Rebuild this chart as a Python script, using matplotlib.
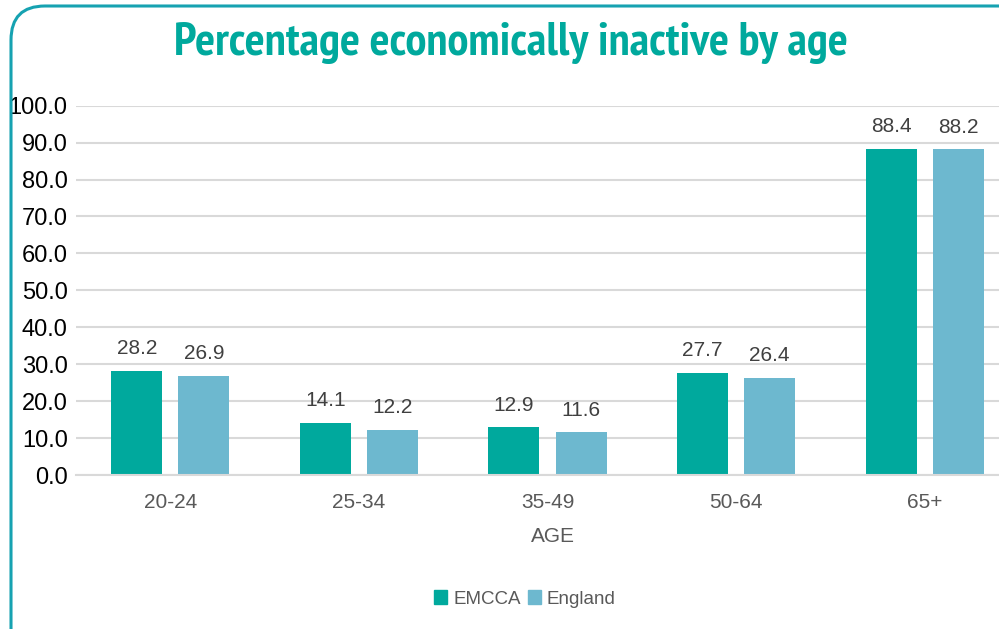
import numpy as np
import matplotlib
matplotlib.use('agg')
import matplotlib.pyplot as plt
from matplotlib import font_manager
from matplotlib.patches import FancyBboxPatch, Patch
from matplotlib.transforms import IdentityTransform

ages = ["20-24", "25-34", "35-49", "50-64", "65+"]
emcca = [28.2, 14.1, 12.9, 27.7, 88.4]
england = [26.9, 12.2, 11.6, 26.4, 88.2]
series_names = ["EMCCA", "England"]
title = "Percentage economically inactive by age"

teal = '#00A99D'
blue = '#6DB8CF'
grid_c = '#D9D9D9'
txt_c = '#595959'

plt.rcParams['font.family'] = ['Liberation Sans', 'DejaVu Sans']

# look for a narrow/condensed bold face for the title (narrow first)
narrow = [f for f in font_manager.fontManager.ttflist
          if (f.stretch in ('condensed', 'semi-condensed', 'extra-condensed')
              or 'Narrow' in f.name or 'Condensed' in f.name)
          and f.weight in ('bold', 700, 'semibold', 600)]
narrow.sort(key=lambda f: 0 if 'Narrow' in f.name else 1)
if narrow:
    title_fp = font_manager.FontProperties(fname=narrow[0].fname, size=30)
else:
    title_fp = font_manager.FontProperties(family='DejaVu Sans', weight='bold', size=30)

fig = plt.figure(figsize=(9.99, 6.29), dpi=100)

# rounded frame round the chart (pixels)
frame = FancyBboxPatch((11, -80), 1100, 629 - 6 + 80, boxstyle="round,pad=0,rounding_size=34",
                       transform=IdentityTransform(), fill=False, edgecolor='#16A2B1', lw=2.2)
fig.add_artist(frame)

ax = fig.add_axes([76 / 999, 1 - 475 / 629, (1019 - 76) / 999, (475 - 105.7) / 629])

x = np.arange(len(ages))
w = 0.27
off = 0.178
b1 = ax.bar(x - off, emcca, w, color=teal, zorder=3)
b2 = ax.bar(x + off, england, w, color=blue, zorder=3)

for bars, vals in [(b1, emcca), (b2, england)]:
    for rect, v in zip(bars, vals):
        ax.annotate(f"{v:.1f}", (rect.get_x() + rect.get_width() / 2, v),
                    xytext=(0, 9), textcoords='offset points', ha='center', va='bottom',
                    fontsize=15, color='#404040')

ax.set_xlim(-0.5, len(ages) - 0.5)
ax.set_ylim(0, 100)
ax.set_yticks(np.arange(0, 101, 10))
ax.yaxis.set_major_formatter(matplotlib.ticker.FormatStrFormatter('%.1f'))
ax.set_xticks(x)
ax.set_xticklabels(ages)
ax.tick_params(axis='y', length=0, labelsize=17, labelcolor='black', pad=6)
ax.tick_params(axis='x', length=0, labelsize=15, labelcolor=txt_c, pad=13)
ax.grid(axis='y', color=grid_c, lw=1.5, zorder=0)
for s in ['left', 'right', 'top']:
    ax.spines[s].set_visible(False)
ax.spines['bottom'].set_color(grid_c)
ax.spines['bottom'].set_linewidth(1.5)
ax.spines['bottom'].set_zorder(4)

fig.text(553 / 999, 1 - 536.5 / 629, "AGE", ha='center', va='center', fontsize=15, color=txt_c)
t = fig.text(511 / 999, 1 - 55 / 629, title, ha='center', va='baseline', color=teal,
             fontproperties=title_fp)
# shrink the title so it spans the same width as in the original
fig.canvas.draw()
tw = t.get_window_extent().width
t.set_fontsize(30 * 673 / tw)

handles = [Patch(color=teal), Patch(color=blue)]
fig.legend(handles, series_names, loc='center', bbox_to_anchor=(525 / 999, 1 - 599 / 629),
           ncol=2, frameon=False, fontsize=13.5, labelcolor=txt_c, handlelength=0.7,
           handleheight=0.7, handletextpad=0.3, columnspacing=0.4)

plt.savefig('out.png', dpi=100)
plt.close()
